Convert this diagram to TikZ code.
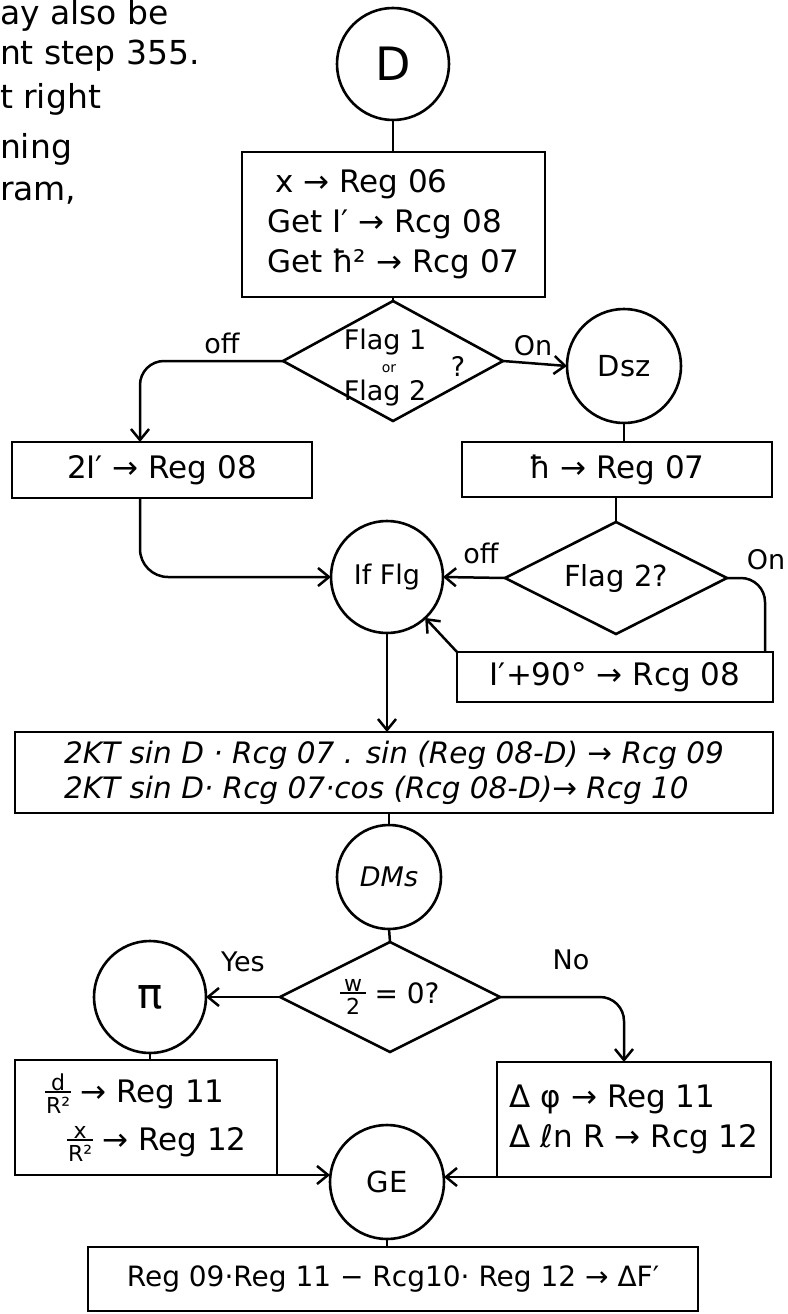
\documentclass[tikz,border=0pt]{standalone}
\usepackage{fontspec}
\setmainfont{DejaVu Sans}
\usetikzlibrary{arrows.meta,shapes.geometric,calc}
\newcommand\hwfrac[2]{\raisebox{-11pt}{\fontsize{22}{22}\selectfont\shortstack[c]{#1\\[-3pt]\rule{1.15em}{2.2pt}\\[1pt]#2}}}
\begin{document}
\begin{tikzpicture}[x=1pt,y=-1pt,
  every node/.style={inner sep=0pt, outer sep=0pt},
  line/.style={line width=2.5pt},
  arr/.style={line width=2.5pt, -{Straight Barb[length=11pt,width=18pt,line width=2.5pt]}},
  box/.style={draw, line width=2.8pt, align=left, font=\fontsize{31}{42}\selectfont},
  circ/.style={draw, circle, line width=2.6pt, font=\fontsize{29}{34}\selectfont},
  dia/.style={draw, diamond, line width=2.6pt},
  lab/.style={font=\fontsize{27}{30}\selectfont},
  flag/.style={font=\fontsize{27}{30}\selectfont},
  note/.style={anchor=base west, font=\fontsize{33}{36}\selectfont}]
\useasboundingbox (0,0) rectangle (787,1314);

% cut-off note at top left
\node[note] (t1) at (0,25) {ay also be};
\node[note] (t2) at (0,64) {nt step 355.};
\node[note] (t3) at (0,108) {t right};
\node[note] (t4) at (0,158) {ning};
\node[note] (t5) at (0,200) {ram,};

% nodes
\node[circ, minimum size=112pt, font=\fontsize{46}{50}\selectfont] (D) at (393,64) {D};
\node[box, minimum width=303pt, minimum height=145pt] (b1) at (393.5,224.5)
  {\hspace*{8pt}x → Reg 06\\[-2pt]Get I′ → Rcg 08\\[-2pt]Get ħ² → Rcg 07};
\node[dia, minimum width=220pt, minimum height=120pt] (d1) at (393,361) {};
\node[flag] (d1a) at (385,342) {Flag 1};
\node[font=\fontsize{14}{14}\selectfont] (d1or) at (389,369) {or};
\node[flag] (d1b) at (385,393) {Flag 2};
\node[flag] (d1q) at (458,366) {?};
\node[circ, minimum size=114pt] (Dsz) at (624,366) {Dsz};
\node[box, minimum width=300pt, minimum height=56pt] (b2) at (162,470) {2I′ → Reg 08};
\node[box, minimum width=310pt, minimum height=55pt] (bh) at (617,469.5) {ħ → Reg 07};
\node[dia, minimum width=222pt, minimum height=112pt] (d2) at (616,578) {};
\node[font=\fontsize{29}{34}\selectfont] (d2t) at (d2.center) {Flag 2?};
\node[circ, minimum size=112pt, font=\fontsize{27}{30}\selectfont] (If) at (387,577) {If Flg};
\node[box, minimum width=316pt, minimum height=50pt] (b90) at (615,677) {I′+90° → Rcg 08};
\node[box, minimum width=758pt, minimum height=81pt, font=\fontsize{29.5}{35}\itshape] (big) at (394,772.5)
  {2KT sin D · Rcg 07 . sin (Reg 08-D) → Rcg 09\\2KT sin D· Rcg 07·cos (Rcg 08-D)→ Rcg 10};
\node[circ, minimum size=104pt, font=\fontsize{27}{30}\itshape] (DMs) at (389,877) {DMs};
\node[dia, minimum width=220pt, minimum height=110pt] (d3) at (390,997) {};
\node[font=\fontsize{28}{30}\selectfont] (d3t) at (d3.center) {\hwfrac{w}{2} = 0?};
\node[circ, minimum size=112pt, font=\fontsize{42}{46}\selectfont] (pi) at (150,997) {π};
\node[box, minimum width=262pt, minimum height=115pt, font=\fontsize{31}{48}\selectfont] (pb) at (146,1117.5)
  {\hwfrac{d}{R²} → Reg 11\\\hspace*{22pt}\hwfrac{x}{R²} → Reg 12};
\node[box, minimum width=274pt, minimum height=115pt] (db) at (634,1119.5)
  {Δ φ → Reg 11\\[-2pt]Δ ℓn R → Rcg 12};
\node[circ, minimum size=114pt] (GE) at (387,1182) {GE};
\node[box, minimum width=610pt, minimum height=64pt, font=\fontsize{28}{32}\selectfont] (fin) at (393,1279)
  {Reg 09·Reg 11 − Rcg10· Reg 12 → ΔF′};

% labels
\node[lab] (off1) at (222,343) {off};
\node[lab] (on1) at (533,346) {On};
\node[lab] (off2) at (481,553) {off};
\node[lab] (on2) at (766,560) {On};
\node[lab] (yes) at (243,962) {Yes};
\node[lab] (no) at (571,960) {No};

% connectors
\draw[line] (D.south) -- (D.south |- b1.north);
\draw[line] (b1.south -| d1.north) -- (d1.north);
\draw[arr, rounded corners=24pt] (d1.west) -| ([xshift=-22pt]b2.north);
\draw[arr] (d1.east) -- (Dsz.west);
\draw[line] (Dsz.south) -- (Dsz.south |- bh.north);
\draw[line] (bh.south -| d2.north) -- (d2.north);
\draw[arr] (d2.west) -- (If.east);
\draw[line, rounded corners=24pt] (d2.east) -| ([xshift=150pt]b90.north);
\draw[arr] (b90.north west) -- (If.-47);
\draw[arr, rounded corners=28pt] ([xshift=-22pt]b2.south) |- (If.west);
\draw[arr] (If.south) -- (If.south |- big.north);
\draw[line] (DMs.north |- big.south) -- (DMs.north);
\draw[line] (DMs.south) -- (d3.north);
\draw[arr] (d3.west) -- (pi.east);
\draw[arr, rounded corners=24pt] (d3.east) -| ([xshift=-10pt]db.north);
\draw[line] (pi.south) -- (pi.south |- pb.north);
\draw[arr] (pb.south east) -- (pb.south east -| GE.west);
\draw[arr] (db.south west) -- (db.south west -| GE.east);
\draw[line] (GE.south) -- (GE.south |- fin.north);
\end{tikzpicture}
\end{document}
